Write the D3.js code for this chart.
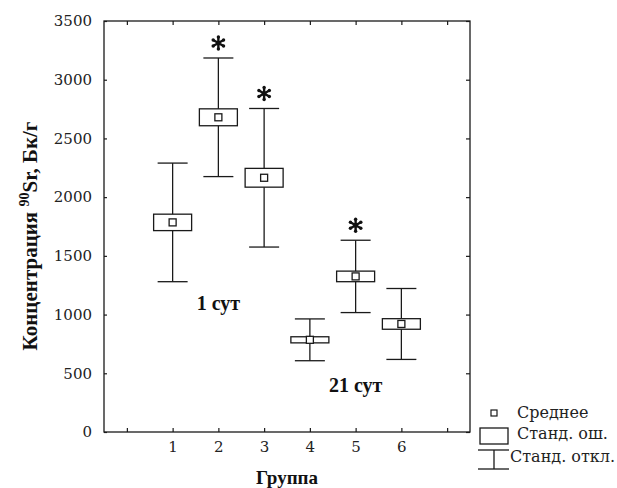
<!DOCTYPE html>
<html>
<head>
<meta charset="utf-8">
<script src="https://cdn.jsdelivr.net/npm/d3@7"></script>
<style>
  body { margin: 0; background: #fff; }
  svg { display: block; }
  .tick-label { font-family: "DejaVu Serif", serif; font-size: 15px; fill: #222; }
  .legend-label { font-family: "DejaVu Serif", serif; font-size: 16px; fill: #222; }
  .bold { font-family: "Liberation Serif", "Times New Roman", serif; font-weight: bold; fill: #111; }
</style>
</head>
<body>
<svg id="chart" width="617" height="488"></svg>
<script>
// data
var groups = [1, 2, 3, 4, 5, 6];
var means = [1785, 2680, 2165, 785, 1325, 920];
var stdErr = [70, 72, 80, 26, 45, 45];
var stdDev = [505, 505, 590, 178, 308, 302];
var starred = [false, true, true, false, true, false];
var yTicks = [0, 500, 1000, 1500, 2000, 2500, 3000, 3500];
var xTicks = [0, 1, 2, 3, 4, 5, 6, 7];
var xLabels = ["1", "2", "3", "4", "5", "6"];
var notes = [{text: "1 сут", g: 2, v: 1100}, {text: "21 сут", g: 5, v: 400}];
var legendItems = ["Среднее", "Станд. ош.", "Станд. откл."];

var svg = d3.select("#chart");
var pL = 104, pR = 470, pT = 21, pB = 432;
var ink = "#1a1a1a";

var x = d3.scaleLinear().domain([-0.5, 7.5]).range([pL, pR]);
var y = d3.scaleLinear().domain([0, 3500]).range([pB, pT]);

var data = groups.map(function(g, i){
  return {g: g, m: means[i], se: stdErr[i], sd: stdDev[i], star: starred[i]};
});

// frame
svg.append("rect").attr("x", pL).attr("y", pT)
  .attr("width", pR - pL).attr("height", pB - pT)
  .attr("fill", "none").attr("stroke", ink).attr("stroke-width", 1.3);

// ticks pointing inward on all four sides
var tl = 4;
svg.append("g").attr("transform", "translate(0," + pB + ")")
  .call(d3.axisBottom(x).tickValues(xTicks).tickSize(-tl).tickFormat(function(d){
    return xLabels.indexOf(String(d)) >= 0 ? d : "";
  }).tickPadding(9))
  .call(function(g){ g.select(".domain").remove(); });
svg.append("g").attr("transform", "translate(0," + pT + ")")
  .call(d3.axisTop(x).tickValues(xTicks).tickSize(-tl).tickFormat(""))
  .call(function(g){ g.select(".domain").remove(); });
svg.append("g").attr("transform", "translate(" + pL + ",0)")
  .call(d3.axisLeft(y).tickValues(yTicks).tickSize(-3).tickPadding(12).tickFormat(d3.format("d")))
  .call(function(g){ g.select(".domain").remove(); });
svg.append("g").attr("transform", "translate(" + pR + ",0)")
  .call(d3.axisRight(y).tickValues(yTicks).tickSize(-tl).tickFormat(""))
  .call(function(g){ g.select(".domain").remove(); });

svg.selectAll(".tick line").attr("stroke", ink).attr("stroke-width", 1.2);
svg.selectAll(".tick text").attr("class", "tick-label");
svg.selectAll("g[font-family]").attr("font-family", null).attr("font-size", null);

// whiskers
var capW = 15, boxW = 19, mk = 3.5;
var grp = svg.append("g").selectAll("g").data(data).join("g");
grp.append("line")
  .attr("x1", function(d){ return x(d.g); }).attr("x2", function(d){ return x(d.g); })
  .attr("y1", function(d){ return y(d.m + d.sd); }).attr("y2", function(d){ return y(d.m - d.sd); })
  .attr("stroke", ink).attr("stroke-width", 1.3);
[1, -1].forEach(function(s){
  grp.append("line")
    .attr("x1", function(d){ return x(d.g) - capW; }).attr("x2", function(d){ return x(d.g) + capW; })
    .attr("y1", function(d){ return y(d.m + s * d.sd); }).attr("y2", function(d){ return y(d.m + s * d.sd); })
    .attr("stroke", ink).attr("stroke-width", 1.3);
});
// SE boxes
grp.append("rect")
  .attr("x", function(d){ return x(d.g) - boxW; }).attr("width", boxW * 2)
  .attr("y", function(d){ return y(d.m + d.se); })
  .attr("height", function(d){ return y(d.m - d.se) - y(d.m + d.se); })
  .attr("fill", "#fff").attr("stroke", ink).attr("stroke-width", 1.3);
// mean markers
grp.append("rect")
  .attr("x", function(d){ return x(d.g) - mk; }).attr("y", function(d){ return y(d.m) - mk; })
  .attr("width", mk * 2).attr("height", mk * 2)
  .attr("fill", "#fff").attr("stroke", ink).attr("stroke-width", 1.3);

// asterisks over significant groups, arms ending in dots
var armR = 6;
var star = d3.symbol().type(d3.symbolAsterisk).size(Math.pow(armR / 0.59436, 2));
var starGrp = grp.filter(function(d){ return d.star; }).append("g")
  .attr("transform", function(d){ return "translate(" + x(d.g) + "," + (y(d.m + d.sd) - 15) + ")"; });
starGrp.append("path").attr("d", star).attr("stroke", "#111").attr("stroke-width", 2.4).attr("fill", "none");
starGrp.append("circle").attr("r", 2.2).attr("fill", "#111");
d3.range(6).forEach(function(k){
  var a = Math.PI / 2 + k * Math.PI / 3;
  starGrp.append("circle").attr("cx", armR * Math.cos(a)).attr("cy", armR * Math.sin(a))
    .attr("r", 1.7).attr("fill", "#111");
});

// notes
svg.selectAll(".note").data(notes).join("text")
  .attr("class", "bold").attr("font-size", 20)
  .attr("x", function(d){ return x(d.g); }).attr("y", function(d){ return y(d.v) + 7; })
  .attr("text-anchor", "middle").text(function(d){ return d.text; });

// axis titles
svg.append("text").attr("class", "bold").attr("font-size", 19)
  .attr("x", (pL + pR) / 2).attr("y", 484).attr("text-anchor", "middle").text("Группа");
var yt = svg.append("text").attr("class", "bold").attr("font-size", 21)
  .attr("transform", "translate(37," + 236 + ") rotate(-90)").attr("text-anchor", "middle");
yt.append("tspan").text("Концентрация ");
yt.append("tspan").attr("font-size", 14).attr("dy", -8).text("90");
yt.append("tspan").attr("dy", 8).text("Sr, Бк/г");

// legend
var lg = svg.append("g");
var lx = 494;
lg.append("rect").attr("x", lx - 3).attr("y", 410).attr("width", 6).attr("height", 6)
  .attr("fill", "#fff").attr("stroke", ink).attr("stroke-width", 1.2);
lg.append("rect").attr("x", lx - 14).attr("y", 428).attr("width", 28).attr("height", 16)
  .attr("fill", "#fff").attr("stroke", ink).attr("stroke-width", 1.3);
lg.append("line").attr("x1", lx - 16).attr("x2", lx + 15).attr("y1", 450).attr("y2", 450).attr("stroke", ink).attr("stroke-width", 1.3);
lg.append("line").attr("x1", lx).attr("x2", lx).attr("y1", 450).attr("y2", 469).attr("stroke", ink).attr("stroke-width", 1.3);
lg.append("line").attr("x1", lx - 16).attr("x2", lx + 15).attr("y1", 469).attr("y2", 469).attr("stroke", ink).attr("stroke-width", 1.3);
lg.selectAll(".lt").data(legendItems).join("text")
  .attr("class", "legend-label")
  .attr("x", function(d, i){ return i === 2 ? 510 : 517; })
  .attr("y", function(d, i){ return [418, 439, 462][i]; })
  .text(function(d){ return d; });
</script>
</body>
</html>
